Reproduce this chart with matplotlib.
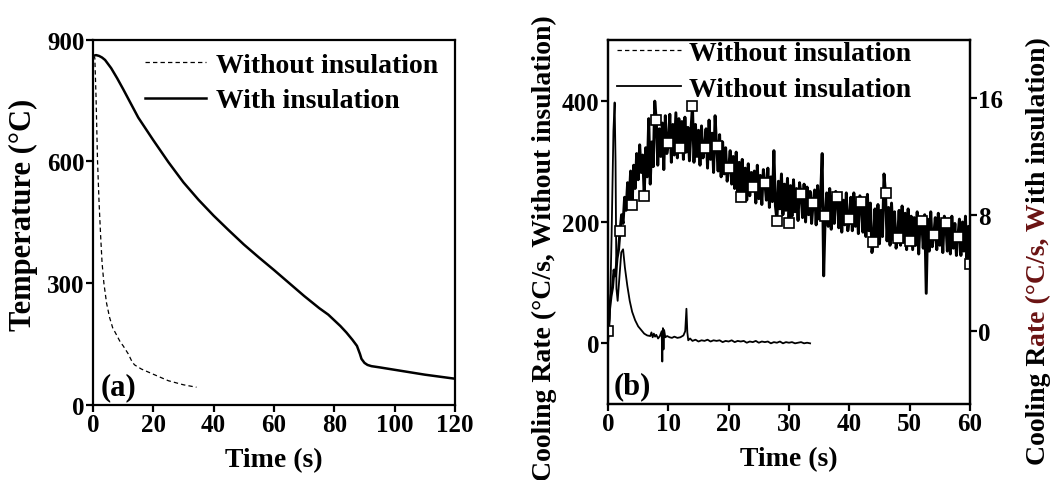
import numpy as np
import matplotlib
matplotlib.use("Agg")
import matplotlib.pyplot as plt
from matplotlib.lines import Line2D

plt.rcParams['font.family'] = ['Liberation Serif', 'DejaVu Serif']
plt.rcParams['font.weight'] = 'bold'
plt.rcParams['axes.linewidth'] = 1.6

# (a) temperature, without insulation (dashed)
t_wo = [0, 0.3, 0.6, 1.0, 1.5, 2.0, 2.5, 3.0, 3.6, 4.5, 5.5, 6.5, 7.8, 9.0,
        10.0, 11.7, 13.0, 13.8, 16, 20, 25, 30, 34.3]
T_wo = [860, 858, 855, 760, 600, 500, 420, 350, 300, 250, 215, 190, 172, 155,
        145, 125, 105, 98, 88, 75, 59, 49, 43]

# (a) temperature, with insulation (solid)
t_w = [0, 1, 2, 3, 4, 6, 8, 10, 12, 15, 20, 25, 30, 35, 40, 45, 50, 55, 60,
       65, 70, 75, 78, 80, 82, 84, 86, 87.5, 88.5, 89, 90, 91, 92.3, 95, 100,
       105, 110, 115, 120]
T_w = [860, 862, 860, 856, 850, 830, 805, 778, 750, 708, 652, 598, 548, 505,
       466, 430, 395, 363, 332, 300, 268, 238, 222, 208, 194, 178, 160, 145,
       125, 113, 103, 98, 95, 92, 86, 80, 74, 69, 64]

# (b) cooling rate without insulation (left axis)
t_rate_wo = [0, 0.3, 0.6, 0.9, 1.1, 1.25, 1.4, 1.6, 1.9, 2.2, 2.5, 2.8, 3.2,
             3.6, 4.0, 4.5, 5.0, 5.5, 6.0, 6.5, 7.0, 7.2, 7.4, 7.6, 7.8, 8.0,
             8.3, 8.6, 8.9, 9.0, 9.1, 9.2, 9.3, 9.5, 9.8, 10.2, 10.6, 11.0,
             11.5, 12.0, 12.5, 12.8, 13.0, 13.15, 13.3, 13.6, 14.0]
rate_wo = [0, 40, 180, 350, 397, 300, 90, 70, 110, 150, 155, 125, 95, 70, 52,
           38, 28, 22, 16, 13, 12, 18, 10, 16, 11, 14, 8, 12, 20, -30, 25, -10,
           22, 10, 12, 10, 9, 11, 9, 10, 13, 20, 57, 18, 5, 8, 4]
tail_rate_wo = [6, 3, 5, 4, 6, 3, 5, 4, 5, 2, 4, 3, 5, 2, 4, 3, 4, 1, 3, 2,
                4, 1, 3, 2, 3, 0, 2, 1, 3, 0, 2, 1, 2, 0, 1, 2, 0, 1, 0]
t_rate_wo = t_rate_wo + list(np.arange(14.5, 33.51, 0.5))
rate_wo = rate_wo + tail_rate_wo

# (b) cooling rate with insulation (right axis), every 0.25 s; each row = 2 s
rate_w = [
    0.0, 1.5, 2.4, 3.0, 4.2, 3.8, 5.0, 5.6,
    6.9, 8.0, 7.4, 9.2, 8.3, 10.2, 8.9, 11.0,
    8.7, 11.4, 9.8, 12.2, 10.4, 12.8, 10.9, 12.1,
    9.3, 12.6, 10.6, 14.6, 10.1, 13.0, 11.3, 15.8,
    14.5, 11.4, 13.9, 12.0, 14.3, 11.1, 14.8, 12.2,
    12.9, 14.9, 11.6, 14.2, 12.1, 15.0, 11.9, 14.6,
    12.6, 14.4, 11.8, 14.7, 12.3, 14.0, 11.7, 13.8,
    15.5, 11.6, 14.2, 12.0, 13.8, 11.4, 14.1, 11.9,
    12.6, 13.9, 11.2, 14.5, 11.8, 13.6, 10.9, 14.8,
    12.7, 11.0, 13.5, 10.6, 13.0, 10.8, 12.6, 10.3,
    11.2, 12.4, 10.1, 12.0, 9.8, 12.3, 9.6, 11.6,
    9.2, 11.8, 9.5, 11.2, 9.0, 11.5, 9.3, 10.9,
    9.9, 11.0, 8.8, 11.4, 9.1, 10.7, 8.7, 11.1,
    10.2, 9.0, 11.2, 8.5, 10.6, 8.9, 12.4, 8.6,
    7.6, 10.3, 8.4, 10.8, 8.0, 10.1, 8.3, 10.5,
    7.4, 10.0, 7.9, 10.4, 8.2, 9.8, 7.6, 10.2,
    9.4, 7.8, 10.1, 7.5, 9.9, 8.0, 9.6, 7.4,
    8.8, 9.7, 7.3, 10.0, 7.7, 9.4, 12.2, 3.8,
    7.9, 9.5, 7.2, 9.8, 7.0, 9.3, 7.4, 9.6,
    9.2, 7.1, 9.4, 6.8, 9.0, 7.3, 9.5, 6.9,
    7.7, 9.2, 6.9, 9.5, 7.2, 8.9, 6.7, 9.3,
    8.9, 6.8, 9.1, 6.5, 9.4, 6.9, 8.8, 5.4,
    6.1, 8.4, 6.3, 8.7, 6.0, 8.3, 6.5, 10.8,
    9.5, 6.2, 8.5, 5.9, 8.8, 6.3, 8.2, 5.7,
    6.4, 8.3, 5.9, 8.6, 6.1, 8.1, 5.6, 8.4,
    6.2, 7.9, 5.6, 7.8, 5.9, 8.2, 5.3, 7.7,
    7.6, 5.7, 8.0, 2.6, 7.7, 5.5, 8.2, 5.8,
    6.6, 7.8, 5.6, 8.1, 5.9, 7.6, 5.4, 7.9,
    7.4, 5.5, 7.7, 5.3, 7.9, 5.7, 7.4, 5.2,
    6.5, 7.7, 5.2, 7.5, 5.5, 7.9, 5.0, 7.2,
    4.6,
]
t_rate_w = np.arange(len(rate_w)) * 0.25

fig = plt.figure(figsize=(10.51, 4.81), dpi=100)
tick_fs = 18
xlabel_fs = 20
ylabel_fs = 20
leg_fs = 20
tag_fs = 22

# ---------------- panel (a)
ax1 = fig.add_axes([0.0885, 0.1566, 0.3444, 0.7588])
l_wo, = ax1.plot(t_wo, T_wo, color='black', lw=0.9, ls=(0, (3.5, 2.5)))
l_w, = ax1.plot(t_w, T_w, color='black', lw=1.8)
ax1.set_xlim(0, 120)
ax1.set_ylim(0, 900)
ax1.set_xticks([0, 20, 40, 60, 80, 100, 120])
ax1.set_yticks([0, 300, 600, 900])
ax1.tick_params(direction='out', length=5, width=1.6, labelsize=tick_fs, pad=1)
ax1.set_xlabel('Time (s)', fontsize=xlabel_fs, fontweight='bold', labelpad=8)
ax1.set_ylabel('Temperature (°C)', fontsize=22, fontweight='bold')
ax1.yaxis.set_label_coords(-0.152, 0.522)
ax1.legend([l_wo, l_w], ['Without insulation', 'With insulation'],
           loc='upper left', bbox_to_anchor=(0.1436, 0.965), frameon=False,
           fontsize=leg_fs, handlelength=2.2, handletextpad=0.36,
           borderpad=0, borderaxespad=0, labelspacing=0.36)
ax1.text(0.02, 0.01, '(a)', transform=ax1.transAxes, fontsize=tag_fs,
         fontweight='bold', ha='left', va='bottom')

# ---------------- panel (b)
ax2 = fig.add_axes([0.5785, 0.158, 0.3444, 0.7568])
ax2.plot(t_rate_wo, rate_wo, color='black', lw=1.3)
ax2.set_xlim(0, 60)
ax2.set_ylim(-100, 500)
ax2.set_xticks([0, 10, 20, 30, 40, 50, 60])
ax2.set_yticks([0, 200, 400])
ax2.tick_params(direction='out', length=5, width=1.6, labelsize=tick_fs, pad=1)
ax2.set_xlabel('Time (s)', fontsize=xlabel_fs, fontweight='bold', labelpad=8)
ax2.set_ylabel('Cooling Rate (°C/s, Without insulation)', fontsize=ylabel_fs,
               fontweight='bold')
ax2.yaxis.set_label_coords(-0.141, 0.431)

ax3 = ax2.twinx()
ax3.plot(t_rate_w, rate_w, color='black', lw=2.1, marker='s', markevery=8,
         markersize=6.5, markerfacecolor='white', markeredgecolor='black',
         markeredgewidth=1.2)
ax3.set_ylim(-5, 20)
ax3.set_yticks([0, 8, 16])
ax3.tick_params(direction='out', length=5, width=1.6, labelsize=tick_fs, pad=1)

h1 = Line2D([], [], color='black', lw=0.9, ls=(0, (3.5, 2.5)))
h2 = Line2D([], [], color='black', lw=1.3)
ax2.legend([h1, h2], ['Without insulation', 'Without insulation'],
           loc='upper left', bbox_to_anchor=(0.025, 0.998), frameon=False,
           fontsize=leg_fs, handlelength=2.3, handletextpad=0.3,
           borderpad=0, borderaxespad=0, labelspacing=0.36)
ax2.text(0.015, 0.01, '(b)', transform=ax2.transAxes, fontsize=tag_fs,
         fontweight='bold', ha='left', va='bottom')

# right label: middle part printed in dark red
pieces = [('Cooling R', 'black'), ('ate (°C/s, W', '#6a1212'),
          ('ith insulation)', 'black')]
fig.canvas.draw()
r = fig.canvas.get_renderer()
x_lab = 1045 / 1051
texts = []
for s, c in pieces:
    texts.append(fig.text(x_lab, 0, s, rotation=90, rotation_mode='anchor',
                          ha='left', va='baseline', color=c,
                          fontsize=ylabel_fs, fontweight='bold'))
heights = [tx.get_window_extent(r).height for tx in texts]
total = sum(heights)
y0 = (481 - 251) / 481 * fig.bbox.height - total / 2
for tx, h in zip(texts, heights):
    tx.set_position((x_lab, y0 / fig.bbox.height))
    y0 += h

fig.savefig('out.png', dpi=100)
